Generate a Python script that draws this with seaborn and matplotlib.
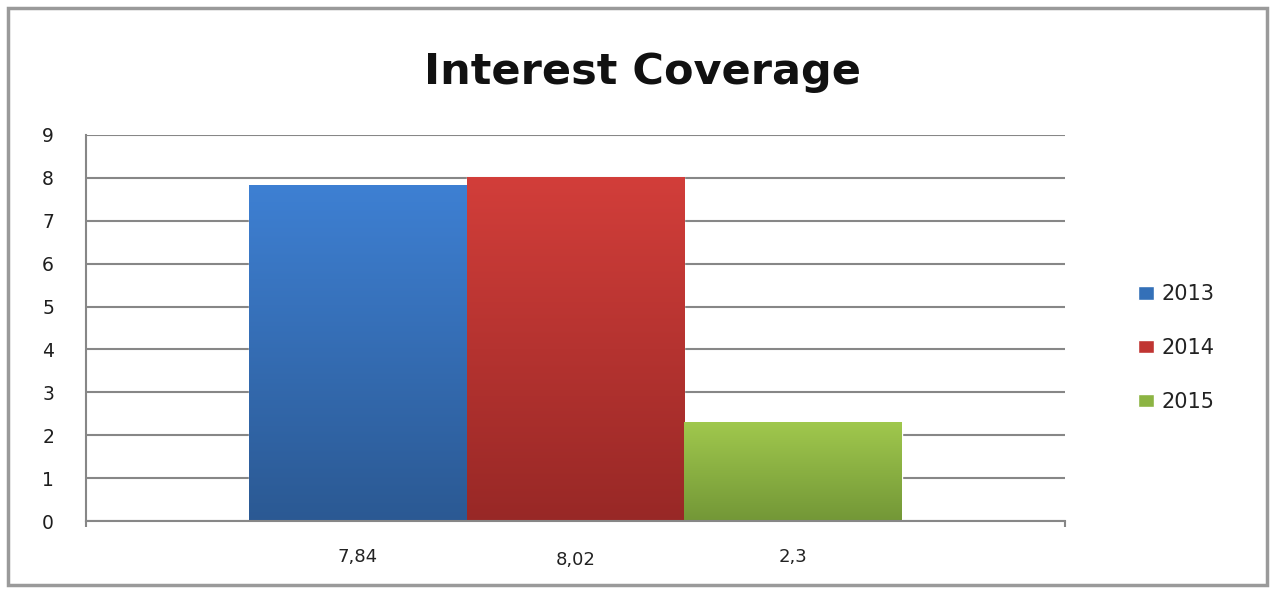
import numpy as np
import pandas as pd
import matplotlib.pyplot as plt
import seaborn as sns
from matplotlib.colors import to_rgb
from matplotlib.patches import Rectangle

# Chart data
title = "Interest Coverage"
years = ["2013", "2014", "2015"]
coverage = [7.84, 8.02, 2.3]
value_labels = ["7,84", "8,02", "2,3"]
y_ticks = list(range(0, 10))

# Excel-like gradient colours (top -> bottom)
top_colors = ["#3e80d3", "#d23e3a", "#a0c84d"]
bottom_colors = ["#2b5993", "#982826", "#739737"]
mid_colors = ["#3470b8", "#c03532", "#8cb443"]

df = pd.DataFrame({"group": [""] * len(years), "year": years, "coverage": coverage})

sns.set_style("white")
plt.rcParams['font.family'] = ['DejaVu Sans']

fig = plt.figure(figsize=(12.71, 5.89), dpi=100)
ax = fig.add_axes([0.0677, 0.1154, 0.838 - 0.0677, 0.7708 - 0.1154])

sns.barplot(data=df, x="group", y="coverage", hue="year", palette=mid_colors,
            width=0.667, dodge=True, saturation=1, ax=ax, legend=True)

# gradient fill on each bar
for container, top, bot in zip(ax.containers, top_colors, bottom_colors):
    for bar in container:
        x0, y0 = bar.get_x(), bar.get_y()
        w, h = bar.get_width(), bar.get_height()
        t = np.linspace(0, 1, 256)[:, None, None]
        grad = np.array(to_rgb(top))[None, None, :] * (1 - t) + np.array(to_rgb(bot))[None, None, :] * t
        im = ax.imshow(grad, extent=[x0, x0 + w, y0, y0 + h], aspect='auto',
                       origin='upper', zorder=bar.get_zorder() + 0.1, interpolation='bilinear')
        im.set_clip_path(bar)

ax.set_xlim(-0.5, 0.5)
ax.set_ylim(0, 9)
ax.set_yticks(y_ticks)
ax.set_xticks([-0.5, 0.5])
ax.set_xticklabels(["", ""])
ax.set_xlabel("")
ax.set_ylabel("")

grey = "#878787"
ax.yaxis.grid(True, color=grey, lw=1.5)
ax.set_axisbelow(True)
for side in ["top", "right"]:
    ax.spines[side].set_visible(False)
for side in ["left", "bottom"]:
    ax.spines[side].set_color(grey)
    ax.spines[side].set_linewidth(1.5)
ax.tick_params(axis="y", length=9, width=1.5, color=grey, pad=14, labelsize=13.5, labelcolor="#1e1e1e")
ax.tick_params(axis="x", length=4, width=1.5, color=grey, bottom=True)

# value labels under each bar (staggered like the original)
offsets = [-0.092, -0.102, -0.092]
for container, lab, off in zip(ax.containers, value_labels, offsets):
    bar = container[0]
    cx = bar.get_x() + bar.get_width() / 2
    ax.text(cx, off, lab, transform=ax.get_xaxis_transform(), ha="center", va="center",
            fontsize=13, color="#222222")

# title
fig.text(643 / 1271, 1 - 72 / 589, title, fontsize=31, fontweight="bold",
         ha="center", va="center", color="#111111")

leg = ax.legend(loc="center left", bbox_to_anchor=(1128 / 1271, 1 - 348 / 589),
                bbox_transform=fig.transFigure, frameon=False, fontsize=15,
                handlelength=0.75, handleheight=0.6, handletextpad=0.35,
                labelspacing=1.62, borderpad=0)
for t in leg.get_texts():
    t.set_color("#222222")

# outer chart border
fig.patches.append(Rectangle((8 / 1271, 4 / 589), 1 - 12 / 1271, 1 - 12 / 589,
                             transform=fig.transFigure, fill=False,
                             edgecolor="#9a9a9a", lw=2.5))

fig.savefig("out.png", dpi=100)
